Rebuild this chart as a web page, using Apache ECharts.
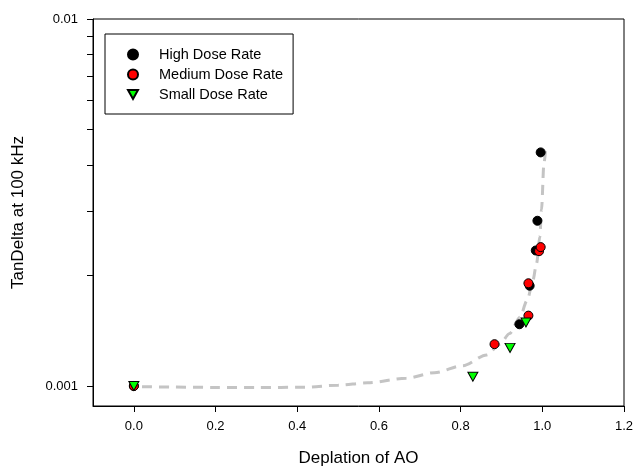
<!DOCTYPE html>
<html>
<head>
<meta charset="utf-8">
<script src="https://cdn.jsdelivr.net/npm/echarts@6/dist/echarts.min.js"></script>
<style>
html,body{margin:0;padding:0;background:#fff;}
#c{width:639px;height:469px;}
</style>
</head>
<body>
<div id="c"></div>
<script>
// ---- data ----
const highDose = [[0.0, 0.001], [0.944, 0.001473], [0.969, 0.001876], [0.984, 0.00234], [0.988, 0.00282], [0.996, 0.00433]];
const mediumDose = [[0.0, 0.001], [0.883, 0.0013], [0.966, 0.001555], [0.966, 0.001905], [0.992, 0.00233], [0.996, 0.00239]];
const smallDose = [[0.0, 0.001], [0.83, 0.00106], [0.921, 0.00127], [0.96, 0.00149]];
const fitCurve = [[0.02, 0.000996], [0.1, 0.000993], [0.2, 0.000991], [0.3, 0.00099], [0.42, 0.000992], [0.5, 0.001005],
  [0.572, 0.00102], [0.667, 0.00105], [0.736, 0.001087], [0.805, 0.001136], [0.864, 0.001215], [0.896, 0.0013],
  [0.92, 0.00139], [0.945, 0.00154], [0.963, 0.00171], [0.977, 0.00194], [0.986, 0.00216], [0.994, 0.00255],
  [0.998, 0.00302], [1.004, 0.00404], [1.008, 0.0044]];
const xTicks = [0.0, 0.2, 0.4, 0.6, 0.8, 1.0, 1.2];
const yMajorTicks = [0.001, 0.01];
const yMinorTicks = [0.002, 0.003, 0.004, 0.005, 0.006, 0.007, 0.008, 0.009];
const seriesNames = ['High Dose Rate', 'Medium Dose Rate', 'Small Dose Rate'];

const FONT = 'Liberation Sans, Arial, sans-serif';
const chart = echarts.init(document.getElementById('c'), null, {renderer: 'canvas'});
const triDown = 'path://M0,0 L10,0 L5,9 Z';

chart.setOption({
  animation: false,
  backgroundColor: '#fff',
  textStyle: {fontFamily: FONT},
  grid: {left: 93, right: 15, top: 19, bottom: 63, containLabel: false, outerBoundsMode: 'none',
    show: true, borderColor: '#000', borderWidth: 1, backgroundColor: 'transparent'},
  legend: {
    orient: 'vertical', left: 105, top: 34,
    data: [
      {name: seriesNames[0], icon: 'circle'},
      {name: seriesNames[1], icon: 'circle'},
      {name: seriesNames[2], icon: triDown}
    ],
    itemWidth: 10, itemHeight: 10, itemGap: 5,
    padding: [13, 10, 12, 22],
    borderColor: '#000', borderWidth: 1, borderRadius: 0,
    textStyle: {fontFamily: FONT, fontSize: 14.5, lineHeight: 15, color: '#000', padding: [0, 0, 0, 16]}
  },
  xAxis: {
    type: 'value', min: -0.1, max: 1.2,
    name: 'Deplation of AO', nameLocation: 'middle', nameGap: 44,
    nameTextStyle: {fontFamily: FONT, fontSize: 17, color: '#000'},
    axisLine: {show: true, onZero: false, lineStyle: {color: '#000', width: 1}},
    axisTick: {show: true, inside: false, length: 6, customValues: xTicks, lineStyle: {color: '#000'}},
    axisLabel: {customValues: xTicks, margin: 14, fontFamily: FONT, fontSize: 13, color: '#000',
      formatter: v => v.toFixed(1)},
    splitLine: {show: false}
  },
  yAxis: [{
    type: 'log', logBase: 10, min: 0.000882, max: 0.01,
    name: 'TanDelta at 100 kHz', nameLocation: 'middle', nameGap: 66,
    nameTextStyle: {fontFamily: FONT, fontSize: 17, color: '#000'},
    axisLine: {show: true, onZero: false, lineStyle: {color: '#000', width: 1}},
    axisTick: {show: true, length: 6, customValues: yMajorTicks.concat(yMinorTicks), lineStyle: {color: '#000'}},
    axisLabel: {customValues: yMajorTicks, margin: 15, fontFamily: FONT, fontSize: 13, color: '#000',
      formatter: v => String(+v.toPrecision(3))},
    splitLine: {show: false}
  }],
  series: [
    {
      name: 'fit', type: 'line', data: fitCurve, showSymbol: false, symbol: 'none', smooth: 0.3, smoothMonotone: 'x',
      lineStyle: {color: '#c4c4c4', width: 3, type: [10, 7]}, z: 1, silent: true
    },
    {
      name: seriesNames[0], type: 'scatter', data: highDose, symbol: 'circle', symbolSize: 9,
      itemStyle: {color: '#000', borderColor: '#000', borderWidth: 1, opacity: 1}, z: 2
    },
    {
      name: seriesNames[1], type: 'scatter', data: mediumDose, symbol: 'circle', symbolSize: 9,
      itemStyle: {color: '#ff0000', borderColor: '#000', borderWidth: 1, opacity: 1}, z: 3
    },
    {
      name: seriesNames[2], type: 'scatter', data: smallDose, symbol: triDown, symbolSize: [10, 9],
      itemStyle: {color: '#00ff00', borderColor: '#000', borderWidth: 1, opacity: 1}, z: 4
    }
  ]
});
</script>
</body>
</html>
